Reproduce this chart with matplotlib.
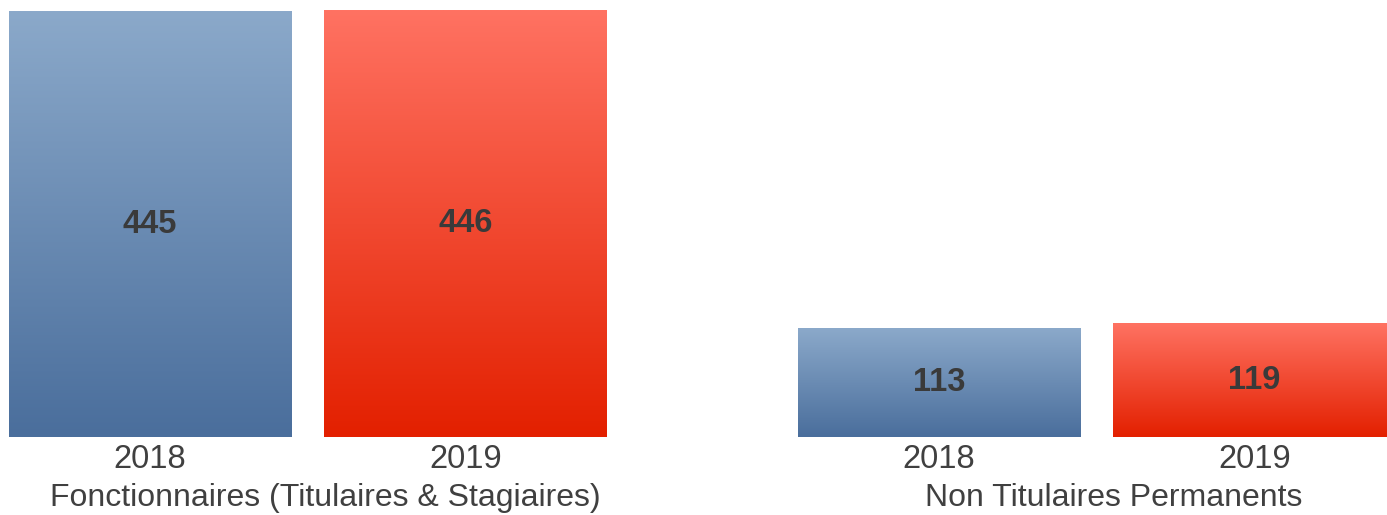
import numpy as np
import matplotlib
matplotlib.use("Agg")
import matplotlib.pyplot as plt
from matplotlib.colors import LinearSegmentedColormap

plt.rcParams['font.family'] = ['Liberation Sans', 'DejaVu Sans']

groups = ["Fonctionnaires (Titulaires & Stagiaires)", "Non Titulaires Permanents"]
years = ["2018", "2019"]
values = [[445, 446], [113, 119]]

positions = [0.0, 1.0, 2.5, 3.5]
bar_width = 0.894

blue_cmap = LinearSegmentedColormap.from_list("b", ["#4A6E9C", "#8BA9CA"])
red_cmap = LinearSegmentedColormap.from_list("r", ["#E32000", "#FF7262"])
cmaps = [blue_cmap, red_cmap]

fig = plt.figure(figsize=(13.87, 5.15), dpi=100)
ax = fig.add_axes([0, 1 - 437/515, 1, 437/515])

flat_vals = [v for g in values for v in g]
flat_years = [y for g in values for y in years]
bars = ax.bar(positions, flat_vals, width=bar_width, color="none", edgecolor="none")

grad = np.linspace(0, 1, 256).reshape(-1, 1)
for i, (b, v) in enumerate(zip(bars, flat_vals)):
    x0, y0 = b.get_x(), b.get_y()
    w, h = b.get_width(), b.get_height()
    ax.imshow(grad, cmap=cmaps[i % 2], origin="lower", aspect="auto",
              extent=[x0, x0 + w, y0, y0 + h], zorder=2, interpolation="bilinear")
    ax.text(x0 + w/2, y0 + h/2, str(v), ha="center", va="center",
            fontsize=23.5, fontweight="bold", color="#3A3A3A", zorder=3)

ax.set_xlim(-150/315.5, (1387-150)/315.5)
ax.set_ylim(0, 437/0.957)
ax.axis("off")

# year tick labels
for p, y in zip(positions, flat_years):
    ax.text(p, -22/0.957, y, ha="center", va="center", fontsize=23.5, color="#404040",
            clip_on=False)

# group labels
group_centers = [np.mean(positions[0:2]) + 0.055, np.mean(positions[2:4]) + 0.055]
for c, g in zip(group_centers, groups):
    ax.text(c, -61/0.957, g, ha="center", va="center", fontsize=23, color="#404040",
            clip_on=False)

fig.savefig("out.png", dpi=100)
